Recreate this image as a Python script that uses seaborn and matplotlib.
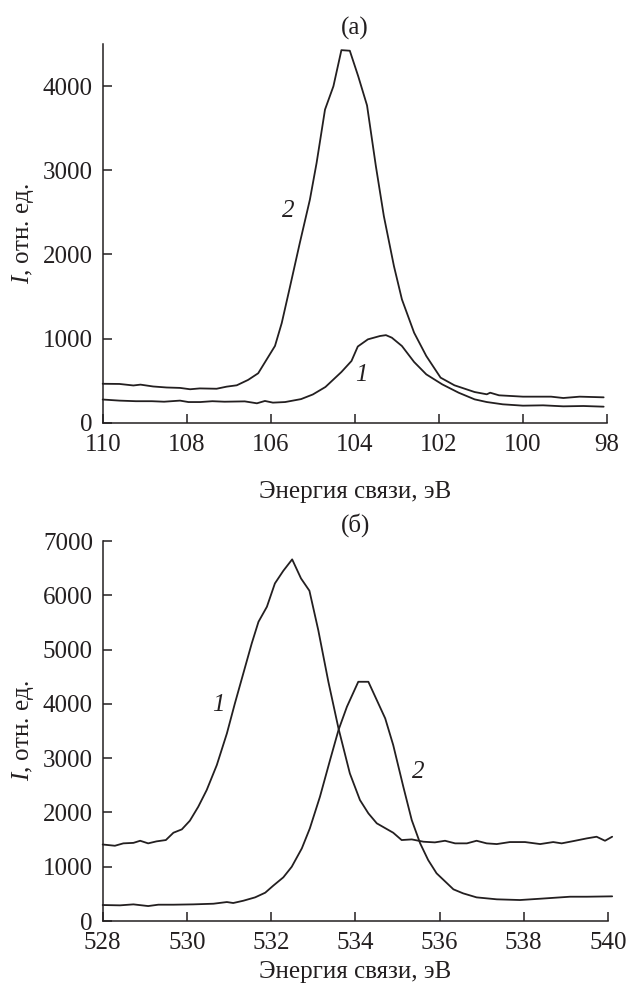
import numpy as np
import pandas as pd
import matplotlib
matplotlib.use('Agg')
import matplotlib.pyplot as plt
import seaborn as sns

# (a) energy scale 110..98 eV
e_a1 = [110.0, 109.6, 109.21, 108.83, 108.54, 108.16, 107.96, 107.68, 107.39, 107.1,
        106.62, 106.33, 106.14, 105.95, 105.66, 105.28, 105.0, 104.7, 104.32, 104.08,
        103.93, 103.69, 103.4, 103.26, 103.12, 102.88, 102.59, 102.3, 101.92, 101.53,
        101.15, 100.86, 100.48, 100.0, 99.52, 99.04, 98.56, 98.08]
i_a1 = [275, 262, 255, 255, 249, 262, 245, 245, 255, 249,
        253, 230, 258, 238, 245, 280, 335, 424, 602, 733,
        905, 990, 1030, 1040, 1010, 911, 721, 574, 455, 356,
        277, 245, 218, 202, 206, 194, 198, 190]

e_a2 = [110.0, 109.6, 109.27, 109.1, 108.8, 108.48, 108.16, 107.92, 107.69, 107.29,
        107.05, 106.81, 106.54, 106.3, 105.9, 105.74, 105.55, 105.31, 105.07, 104.91,
        104.71, 104.51, 104.32, 104.12, 103.92, 103.71, 103.5, 103.31, 103.07, 102.88,
        102.59, 102.3, 101.96, 101.63, 101.15, 100.86, 100.78, 100.57, 100.0, 99.33,
        99.04, 98.65, 98.08]
i_a2 = [462, 460, 442, 452, 430, 418, 413, 397, 407, 403,
        428, 444, 508, 587, 912, 1183, 1600, 2135, 2650, 3087,
        3721, 3998, 4427, 4420, 4117, 3770, 3049, 2455, 1861, 1465,
        1069, 792, 535, 444, 364, 337, 356, 325, 309, 309,
        293, 309, 301]

# (б) energy scale 528..540 eV
e_b1 = [528.0, 528.29, 528.49, 528.73, 528.89, 529.08, 529.28, 529.5, 529.68, 529.88,
        530.07, 530.27, 530.47, 530.71, 530.95, 531.14, 531.34, 531.54, 531.7, 531.9,
        532.09, 532.29, 532.5, 532.71, 532.91, 533.12, 533.36, 533.6, 533.87, 534.11,
        534.31, 534.51, 534.9, 535.1, 535.34, 535.62, 535.89, 536.13, 536.37, 536.65,
        536.88, 537.12, 537.36, 537.67, 538.03, 538.39, 538.7, 538.9, 539.18, 539.5,
        539.73, 539.93, 540.1]
i_b1 = [1410, 1387, 1431, 1440, 1479, 1431, 1468, 1492, 1627, 1689,
        1848, 2106, 2413, 2873, 3457, 4010, 4563, 5115, 5513, 5790,
        6220, 6453, 6663, 6312, 6085, 5360, 4408, 3550, 2720, 2229,
        1984, 1800, 1627, 1492, 1504, 1461, 1449, 1479, 1431, 1431,
        1479, 1431, 1418, 1455, 1455, 1418, 1455, 1431, 1473, 1523,
        1553, 1479, 1553]

e_b2 = [528.0, 528.41, 528.73, 529.08, 529.32, 529.68, 530.15, 530.63, 530.95, 531.1,
        531.34, 531.62, 531.86, 532.05, 532.29, 532.49, 532.73, 532.92, 533.16, 533.4,
        533.6, 533.8, 534.07, 534.31, 534.71, 534.9, 535.14, 535.34, 535.54, 535.73,
        535.93, 536.33, 536.56, 536.88, 537.36, 537.91, 538.39, 539.1, 539.5, 540.1]
i_b2 = [295, 289, 307, 276, 301, 301, 307, 319, 350, 332,
        374, 436, 522, 651, 805, 1000, 1339, 1707, 2290, 2966,
        3518, 3947, 4408, 4408, 3733, 3242, 2474, 1860, 1431, 1124,
        879, 584, 510, 436, 400, 387, 411, 448, 448, 455]

xlabel = 'Энергия связи, эВ'
ylabel = '$I$, отн. ед.'
xticks_a = [110, 108, 106, 104, 102, 100, 98]
yticks_a = [0, 1000, 2000, 3000, 4000]
xticks_b = [528, 530, 532, 534, 536, 538, 540]
yticks_b = [0, 1000, 2000, 3000, 4000, 5000, 6000, 7000]

sns.set_style('ticks')
plt.rcParams['font.family'] = ['Liberation Serif', 'DejaVu Serif']
plt.rcParams['mathtext.fontset'] = 'custom'
plt.rcParams['mathtext.it'] = 'Liberation Serif:italic'
plt.rcParams['mathtext.rm'] = 'Liberation Serif'

INK = '#231f20'
FS = 18

fig = plt.figure(figsize=(6.3, 9.91), dpi=100)
ax_a = fig.add_axes([0.163, 0.5735, 0.8005, 0.3821])
ax_b = fig.add_axes([0.163, 0.0706, 0.8020, 0.3834])


def style_axis(ax, title, xticks, yticks, xpad):
    ax.set_xticks(xticks)
    ax.set_yticks(yticks)
    ax.tick_params(direction='in', length=6.5, width=1.1, colors=INK,
                   labelsize=FS)
    ax.tick_params(axis='x', pad=8)
    ax.tick_params(axis='y', pad=7)
    for s in ['top', 'right']:
        ax.spines[s].set_visible(False)
    for s in ['left', 'bottom']:
        ax.spines[s].set_color(INK)
        ax.spines[s].set_linewidth(1.1)
    ax.set_xlabel(xlabel, fontsize=FS, color=INK, labelpad=xpad)
    ax.set_ylabel(ylabel, fontsize=FS, color=INK, labelpad=5)
    ax.set_title(title, fontsize=FS, color=INK, pad=7)


df_a = pd.concat([pd.DataFrame({'E': e_a1, 'I': i_a1, 'c': '1'}),
                  pd.DataFrame({'E': e_a2, 'I': i_a2, 'c': '2'})])
sns.lineplot(data=df_a, x='E', y='I', hue='c', palette=[INK, INK], sort=False,
             estimator=None, lw=1.3, legend=False, ax=ax_a)
ax_a.set_xlim(110, 98)
ax_a.set_ylim(0, 4500)
style_axis(ax_a, '(а)', xticks_a, yticks_a, 18)
ax_a.text(105.59, 2511, '2', fontsize=FS, style='italic', color=INK, ha='center', va='center')
ax_a.text(103.84, 567, '1', fontsize=FS, style='italic', color=INK, ha='center', va='center')

df_b = pd.concat([pd.DataFrame({'E': e_b1, 'I': i_b1, 'c': '1'}),
                  pd.DataFrame({'E': e_b2, 'I': i_b2, 'c': '2'})])
sns.lineplot(data=df_b, x='E', y='I', hue='c', palette=[INK, INK], sort=False,
             estimator=None, lw=1.3, legend=False, ax=ax_b)
ax_b.set_xlim(528, 540)
ax_b.set_ylim(0, 7000)
style_axis(ax_b, '(б)', xticks_b, yticks_b, 5)
ax_b.text(530.75, 3980, '1', fontsize=FS, style='italic', color=INK, ha='center', va='center')
ax_b.text(535.5, 2750, '2', fontsize=FS, style='italic', color=INK, ha='center', va='center')

for ax in [ax_a, ax_b]:
    for ln in ax.get_lines():
        ln.set_clip_on(False)

fig.savefig('out.png', dpi=100)
